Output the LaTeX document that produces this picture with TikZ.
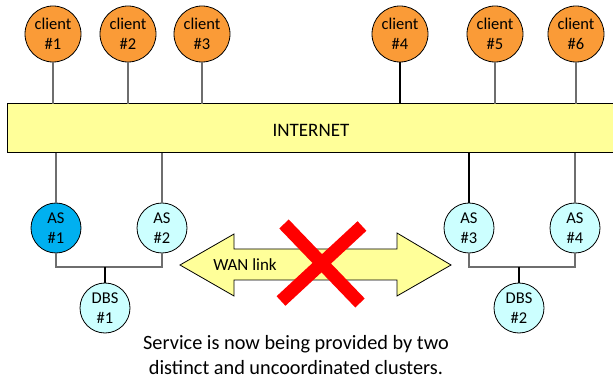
\documentclass[tikz,border=0pt]{standalone}
\usepackage{fontspec}
\setmainfont{Carlito}
\begin{document}
\begin{tikzpicture}[x=1pt,y=-1pt,
  node font=\fontsize{16.5}{19.5}\selectfont,
  client/.style={circle,draw=black,line width=0.8pt,fill=orangeF,minimum size=56pt,inner sep=0pt,align=center},
  server/.style={circle,draw=black,line width=0.8pt,fill=cyanL,minimum size=50pt,inner sep=0pt,align=center},
  wire/.style={line width=1.2pt,draw=wireG},
  wireB/.style={line width=1.1pt,draw=black}]
\definecolor{orangeF}{RGB}{250,155,55}
\definecolor{cyanL}{RGB}{204,255,255}
\definecolor{blueAS}{RGB}{0,176,240}
\definecolor{yellowL}{RGB}{255,255,153}
\definecolor{wireG}{RGB}{110,110,110}
\useasboundingbox (0,0) rectangle (613,379);

% internet backbone
\fill[yellowL] (7,104) rectangle (613,153);
\draw[line width=1pt] (613,104) -- (7,104) -- (7,153) -- (613,153);
\node (net) at (311,130) {\fontsize{19}{22}\selectfont INTERNET};
\coordinate (nettop) at (0,104);
\coordinate (netbot) at (0,153);

% clients
\node[client] (c1) at (53,34) {client\\\#1};
\node[client] (c2) at (128,34) {client\\\#2};
\node[client] (c3) at (202,34) {client\\\#3};
\node[client] (c4) at (400,34) {client\\\#4};
\node[client] (c5) at (495,34) {client\\\#5};
\node[client] (c6) at (576,34) {client\\\#6};
\foreach \c in {c1,c2,c3,c5,c6}
  \draw[wire] (\c.south) -- (\c.south |- nettop);
\draw[wireB] (c4.south) -- (c4.south |- nettop);

% application servers
\node[server,fill=blueAS] (as1) at (56,228) {AS\\\#1};
\node[server] (as2) at (162,228) {AS\\\#2};
\node[server] (as3) at (469,228) {AS\\\#3};
\node[server] (as4) at (575,228) {AS\\\#4};
\draw[wire] (as1.north) -- (as1.north |- netbot);
\draw[wire] (as2.north) -- (as2.north |- netbot);
\draw[wireB] (as3.north) -- (as3.north |- netbot);
\draw[wire] (as4.north) -- (as4.north |- netbot);

% database servers
\node[server] (db1) at (105,308) {DBS\\\#1};
\node[server] (db2) at (519,308) {DBS\\\#2};
\coordinate (bus1) at (105,267);
\coordinate (bus2) at (519,267);
\draw[wire] (as1.south) -- (as1.south |- bus1) -- (as2.south |- bus1) -- (as2.south);
\draw[wireB] (bus1) -- (db1.north);
\draw[wire] (as3.south) -- (as3.south |- bus2) -- (as4.south |- bus2) -- (as4.south);
\draw[wireB] (bus2) -- (db2.north);

% WAN link arrow
\draw[fill=yellowL,line width=0.8pt] (180,265) -- (234,234) -- (234,249) -- (397,249) -- (397,233)
  -- (451,265) -- (397,296) -- (397,280) -- (234,280) -- (234,296) -- cycle;
\node (wan) at (245,265) {\fontsize{17}{20}\selectfont WAN link};

% broken link cross
\coordinate (xa1) at (284,224);
\coordinate (xa2) at (360,303);
\coordinate (xb1) at (362,226);
\coordinate (xb2) at (281,301);
\draw[red,line width=13pt] (xa1) -- (xa2);
\draw[red,line width=13pt] (xb1) -- (xb2);

% caption
\node[align=center,font=\fontsize{20.3}{25}\selectfont] (cap) at (296,355)
  {Service is now being provided by two\\distinct and uncoordinated clusters.};
\end{tikzpicture}
\end{document}
